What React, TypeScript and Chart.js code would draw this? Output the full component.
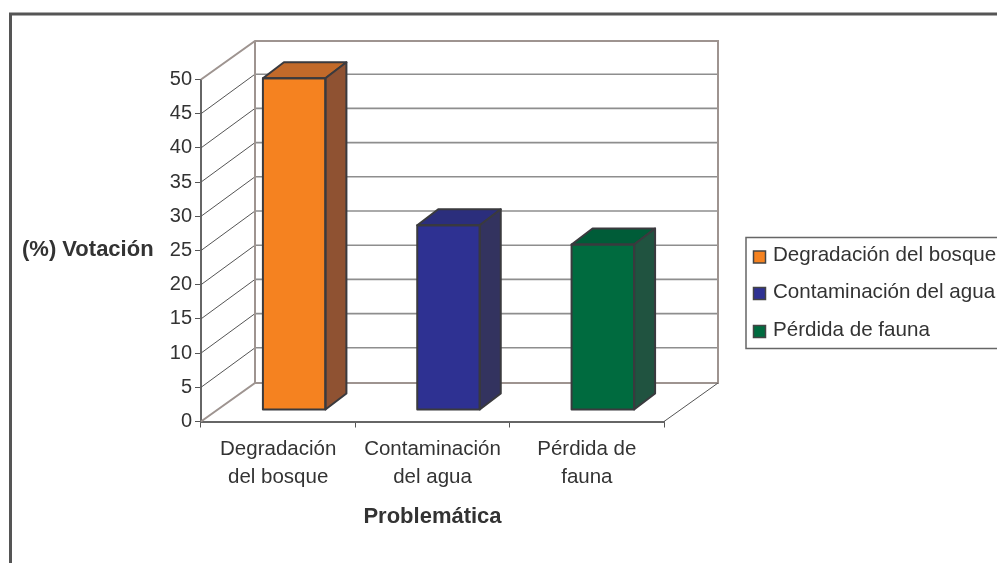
import React, { useEffect, useRef } from "react";
import { Chart, registerables } from "chart.js";

Chart.register(...registerables);

const categories = [["Degradación", "del bosque"], ["Contaminación", "del agua"], ["Pérdida de", "fauna"]];
const legendLabels = ["Degradación del bosque", "Contaminación del agua", "Pérdida de fauna"];
const votes = [48.5, 27, 24.2];
const frontColors = ["#F58220", "#2E3192", "#006B3F"];
const topColors = ["#C26A2A", "#2B2E7C", "#005C38"];
const sideColors = ["#8F5232", "#33335F", "#205340"];
const yTitle = "(%) Votación";
const xTitle = "Problemática";

const FONT = "'Liberation Sans', Arial, sans-serif";
const TEXT = "#333333";
const OUTLINE = "#3A3A3E";
const WALL = "#9E9490";
const GRID = "#8E8E8E";
const DEPTH_X = 54;
const DEPTH_Y = 38.5;
const GRID_DEPTH_Y = 39.5;
const BAR_SHIFT_X = 16;
const BAR_SHIFT_Y = 11.5;
const BAR_DX = 21;
const BAR_DY = 16;

const threeD = {
  id: "threeD",
  beforeDraw(chart: any) {
    const { ctx } = chart;
    ctx.save();
    ctx.fillStyle = "#fff";
    ctx.fillRect(0, 0, 997, 563);
    ctx.strokeStyle = "#555";
    ctx.lineWidth = 3;
    ctx.beginPath();
    ctx.moveTo(10.5, 563);
    ctx.lineTo(10.5, 14);
    ctx.lineTo(997, 14);
    ctx.stroke();
    ctx.restore();
  },
  beforeDatasetsDraw(chart: any) {
    const { ctx, chartArea: a, scales } = chart;
    const y = scales.y;
    ctx.save();
    const bl = a.left + DEPTH_X;
    const br = a.right + DEPTH_X;
    // back-wall grid and side-wall lines
    y.ticks.forEach((t: any) => {
      const py = y.getPixelForValue(t.value);
      if (t.value > 0 && t.value < 50) {
        ctx.strokeStyle = "#555";
        ctx.lineWidth = 1;
        ctx.beginPath();
        ctx.moveTo(a.left, py);
        ctx.lineTo(bl, py - GRID_DEPTH_Y);
        ctx.stroke();
        ctx.strokeStyle = GRID;
        ctx.lineWidth = 1.6;
        ctx.beginPath();
        ctx.moveTo(bl, py - GRID_DEPTH_Y);
        ctx.lineTo(br, py - GRID_DEPTH_Y);
        ctx.stroke();
      }
    });
    ctx.strokeStyle = WALL;
    ctx.lineWidth = 2;
    ctx.beginPath();
    ctx.moveTo(a.left, a.top);
    ctx.lineTo(bl, a.top - DEPTH_Y);
    ctx.lineTo(br, a.top - DEPTH_Y);
    ctx.lineTo(br, a.bottom - DEPTH_Y);
    ctx.lineTo(bl, a.bottom - DEPTH_Y);
    ctx.lineTo(a.left, a.bottom);
    ctx.moveTo(bl, a.top - DEPTH_Y);
    ctx.lineTo(bl, a.bottom - DEPTH_Y);
    ctx.stroke();
    ctx.strokeStyle = "#555";
    ctx.lineWidth = 1;
    ctx.beginPath();
    ctx.moveTo(a.right, a.bottom);
    ctx.lineTo(br, a.bottom - DEPTH_Y);
    ctx.stroke();
    ctx.restore();
    ctx.save();
    ctx.translate(BAR_SHIFT_X, -BAR_SHIFT_Y);
  },
  afterDatasetsDraw(chart: any) {
    const { ctx } = chart;
    const bars = chart.getDatasetMeta(0).data;
    ctx.strokeStyle = OUTLINE;
    ctx.lineWidth = 2;
    ctx.lineJoin = "round";
    bars.forEach((b: any, i: number) => {
      const l = b.x - b.width / 2;
      const r = b.x + b.width / 2;
      ctx.fillStyle = topColors[i];
      ctx.beginPath();
      ctx.moveTo(l, b.y);
      ctx.lineTo(l + BAR_DX, b.y - BAR_DY);
      ctx.lineTo(r + BAR_DX, b.y - BAR_DY);
      ctx.lineTo(r, b.y);
      ctx.closePath();
      ctx.fill();
      ctx.stroke();
      ctx.fillStyle = sideColors[i];
      ctx.beginPath();
      ctx.moveTo(r, b.y);
      ctx.lineTo(r + BAR_DX, b.y - BAR_DY);
      ctx.lineTo(r + BAR_DX, b.base - BAR_DY);
      ctx.lineTo(r, b.base);
      ctx.closePath();
      ctx.fill();
      ctx.stroke();
      ctx.strokeRect(l, b.y, b.width, b.base - b.y);
    });
    ctx.restore();
  },
  afterDraw(chart: any) {
    const { ctx } = chart;
    ctx.save();
    ctx.fillStyle = TEXT;
    ctx.textBaseline = "middle";
    ctx.textAlign = "left";
    ctx.font = `bold 22px ${FONT}`;
    ctx.fillText(yTitle, 22, 250);
    // legend
    ctx.strokeStyle = "#666";
    ctx.lineWidth = 1.5;
    ctx.strokeRect(746, 237.5, 300, 111);
    ctx.font = `20.6px ${FONT}`;
    const rows = [255.5, 292, 330];
    legendLabels.forEach((label, i) => {
      ctx.fillStyle = frontColors[i];
      ctx.fillRect(753.5, rows[i] - 4.5, 12, 12);
      ctx.strokeStyle = "#444";
      ctx.strokeRect(753.5, rows[i] - 4.5, 12, 12);
      ctx.fillStyle = TEXT;
      ctx.fillText(label, 773, rows[i]);
    });
    ctx.restore();
  },
};

export default function App() {
  const ref = useRef<HTMLCanvasElement>(null);
  useEffect(() => {
    const chart = new Chart(ref.current!, {
      type: "bar",
      data: {
        labels: categories,
        datasets: [
          {
            data: votes,
            backgroundColor: frontColors,
            borderWidth: 0,
            barPercentage: 0.405,
            categoryPercentage: 1,
            clip: false,
          } as any,
        ],
      },
      options: {
        responsive: false,
        animation: false,
        layout: { padding: { left: 0, top: 79.5, right: 333, bottom: 0 } },
        plugins: { legend: { display: false }, tooltip: { enabled: false } },
        scales: {
          x: {
            afterFit: (s: any) => {
              s.height = 141.5;
            },
            grid: { drawOnChartArea: false, drawTicks: true, tickLength: 6, color: "#555", offset: true },
            border: { color: "#666", width: 2 },
            ticks: {
              maxRotation: 0,
              minRotation: 0,
              autoSkip: false,
              color: TEXT,
              padding: 7,
              font: { family: FONT, size: 20.5, lineHeight: 1.4 },
            },
            title: {
              display: true,
              text: xTitle,
              color: TEXT,
              padding: { top: 0, bottom: 33 },
              font: { family: FONT, size: 22, weight: "bold" },
            },
          },
          y: {
            min: 0,
            max: 50,
            afterFit: (s: any) => {
              s.width = 201;
            },
            grid: { drawOnChartArea: false, drawTicks: true, tickLength: 6, color: "#555" },
            border: { color: "#666", width: 2 },
            ticks: {
              stepSize: 5,
              color: TEXT,
              padding: 3,
              font: { family: FONT, size: 20 },
            },
          },
        },
      },
      plugins: [threeD],
    } as any);
    return () => chart.destroy();
  }, []);
  return (
    <canvas
      ref={ref}
      width={997}
      height={563}
      style={{ position: "fixed", left: 0, top: 0, width: 997, height: 563, display: "block" }}
    />
  );
}
